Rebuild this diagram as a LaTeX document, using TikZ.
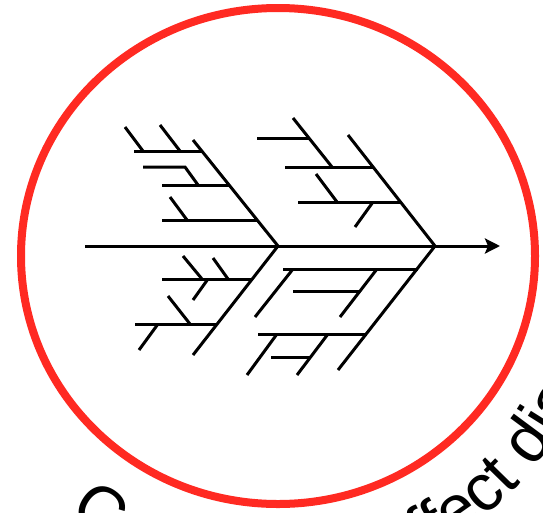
\documentclass[tikz,border=0pt]{standalone}
\usepackage{fontspec}
\usepackage{tikz}
\usetikzlibrary{arrows.meta,decorations.text}
\newfontfamily\labelfamily{Liberation Sans}
\definecolor{ringred}{RGB}{255,42,34}
\newcommand\PxUnit{1pt}
\newcommand\LabelFont{\labelfamily\fontsize{66}{66}\selectfont}
\tikzset{
  bone/.style={
    line width=3pt,
    draw=black
  },
  spine/.style={
    line width=3pt,
    -{Stealth[length=15pt,width=15pt,inset=3pt]}
  },
  ring/.style={
    line width=8pt,
    draw=ringred
  },
}
\begin{document}
\begin{tikzpicture}[x=\PxUnit,y=\PxUnit]
    \useasboundingbox (0,0) rectangle (543,-512);
    \clip (0,0) rectangle (543,-512);

    \coordinate (ringc) at (278,-256);
    \draw[ring] (ringc) ellipse [x radius=257, y radius=248];

    \coordinate (tail) at (85,-246);
    \coordinate (tip) at (500,-246);
    \coordinate (headA) at (278,-246);
    \coordinate (headB) at (435,-246);
    \draw[spine] (tail) -- (tip);

    % left fish, upper side
    \draw[bone] (headA) -- (193,-140);
    \draw[bone] (134,-151) -- (202,-151);
    \draw[bone] (125,-127) -- (143,-151);
    \draw[bone] (160,-125) -- (180,-151);
    \draw[bone] (162,-185) -- (229,-185);
    \draw[bone] (143,-167) -- (185,-167) -- (198,-185);
    \draw[bone] (162,-220) -- (257,-220);
    \draw[bone] (170,-197) -- (187,-220);

    % left fish, lower side
    \draw[bone] (headA) -- (193,-355);
    \draw[bone] (162,-279) -- (252,-279);
    \draw[bone] (183,-256) -- (202,-279);
    \draw[bone] (213,-258) -- (228,-279);
    \draw[bone] (208,-279) -- (193,-300);
    \draw[bone] (135,-324) -- (217,-324);
    \draw[bone] (168,-296) -- (190,-324);
    \draw[bone] (158,-324) -- (139,-350);

    % right fish, upper side
    \draw[bone] (headB) -- (348,-135);
    \draw[bone] (285,-167) -- (373,-167);
    \draw[bone] (293,-118) -- (332,-167);
    \draw[bone] (257,-138) -- (309,-138);
    \draw[bone] (298,-202) -- (400,-202);
    \draw[bone] (316,-174) -- (337,-202);
    \draw[bone] (373,-202) -- (355,-227);

    % right fish, lower side
    \draw[bone] (headB) -- (338,-370);
    \draw[bone] (283,-269) -- (418,-269);
    \draw[bone] (293,-269) -- (255,-317);
    \draw[bone] (377,-269) -- (340,-317);
    \draw[bone] (293,-291) -- (360,-291);
    \draw[bone] (258,-334) -- (367,-334);
    \draw[bone] (277,-334) -- (247,-375);
    \draw[bone] (328,-334) -- (297,-375);
    \draw[bone] (271,-357) -- (311,-357);

    \path[decorate,decoration={text along path,
        text={|\LabelFont|Cause and effect diagram}}]
        (ringc) ++(231:332) arc[start angle=231, end angle=420, radius=332];
\end{tikzpicture}
\end{document}
